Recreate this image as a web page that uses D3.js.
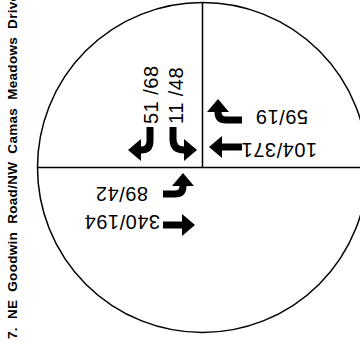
<!DOCTYPE html>
<html>
<head>
<meta charset="utf-8">
<script src="https://cdn.jsdelivr.net/npm/d3@7"></script>
<style>
  html, body { margin: 0; padding: 0; background: #fff; }
  svg { display: block; }
</style>
</head>
<body>
<script>
// ---- data ----
const title = "7. NE Goodwin Road/NW Camas Meadows Drive";
const movements = ["SB left", "SB right", "WB left", "WB through", "EB left", "EB through"];
const volumesAM = [51, 11, 59, 104, 89, 340];
const volumesPM = [68, 48, 19, 371, 42, 194];
const arrowKinds = ["turn", "turn", "turn", "through", "turn", "through"];

// ---- layout ----
const W = 360, H = 343;
const cx = 202.5, cy = 167.5, R = 165;
const sx = d3.scaleLinear().domain([-1, 1]).range([cx - R, cx + R]);
const sy = d3.scaleLinear().domain([-1, 1]).range([cy - R, cy + R]);

const svg = d3.select("body").append("svg").attr("width", W).attr("height", H);

svg.append("circle").attr("cx", sx(0)).attr("cy", sy(0)).attr("r", R)
  .attr("fill", "none").attr("stroke", "#000").attr("stroke-width", 1.5);
svg.append("line").attr("x1", sx(-1)).attr("x2", sx(1)).attr("y1", sy(0)).attr("y2", sy(0))
  .attr("stroke", "#000").attr("stroke-width", 1.5);
svg.append("line").attr("x1", sx(0)).attr("x2", sx(0)).attr("y1", sy(-1)).attr("y2", sy(0))
  .attr("stroke", "#000").attr("stroke-width", 1.5);

// title, rotated
svg.append("text")
  .attr("transform", `translate(17,339) rotate(-90)`)
  .attr("font-family", "Liberation Sans, Arial, sans-serif")
  .attr("font-weight", "bold")
  .attr("font-size", 13.5)
  .attr("word-spacing", 4)
  .attr("letter-spacing", 0.3)
  .text(title);

const HL = 13, HW = 11, SW = 7;
const head = `M0,0 L${HW},${HL} L${-HW},${HL} Z`;
function shaftPath(kind, drop, tail) {
  if (kind === "through") return `M0,${HL - 1} L0,${tail}`;
  const rc = Math.max(2, drop - HL);
  return `M0,${HL - 1} L0,${drop - rc} Q0,${drop} ${rc},${drop} L${tail},${drop}`;
}

// placement of each movement arrow: [tipX, tipY, rotation, mirror, drop, tail]
const arrowPlace = [
  [128, 150, -90, 1, 22, 23],   // SB left: head left, tail up
  [197, 150, 90, -1, 24, 23],   // SB right: head right, tail up
  [218, 99, 0, 1, 21, 24],      // WB left: head up, tail right
  [209, 147, -90, 1, 0, 33],    // WB through: head left
  [183, 173, 0, -1, 21, 20],    // EB left: head up, tail left
  [195, 225, 90, 1, 0, 32]      // EB through: head right
];

const g = svg.append("g");
movements.forEach((m, i) => {
  const [tx, ty, rot, mir, drop, tail] = arrowPlace[i];
  const a = g.append("g")
    .attr("transform", `translate(${tx},${ty}) rotate(${rot}) scale(${mir},1)`);
  a.append("path").attr("d", shaftPath(arrowKinds[i], drop, tail))
    .attr("fill", "none").attr("stroke", "#000").attr("stroke-width", SW);
  a.append("path").attr("d", head).attr("fill", "#000");
});

// labels: [x, y, rotation]
const labelPlace = [
  [158, 124, -90],
  [183, 124, -90],
  [308, 110, 180],
  [317, 143, 180],
  [148, 187, 180],
  [160, 215, 180]
];
movements.forEach((m, i) => {
  const [x, y, rot] = labelPlace[i];
  const isVertical = rot === -90;
  svg.append("text")
    .attr("transform", `translate(${x},${y}) rotate(${rot})`)
    .attr("font-family", "Liberation Sans, Arial, sans-serif")
    .attr("font-size", 20)
    .attr("letter-spacing", 0.5)
    .text(isVertical ? `${volumesAM[i]} /${volumesPM[i]}` : `${volumesAM[i]}/${volumesPM[i]}`);
});
</script>
</body>
</html>
